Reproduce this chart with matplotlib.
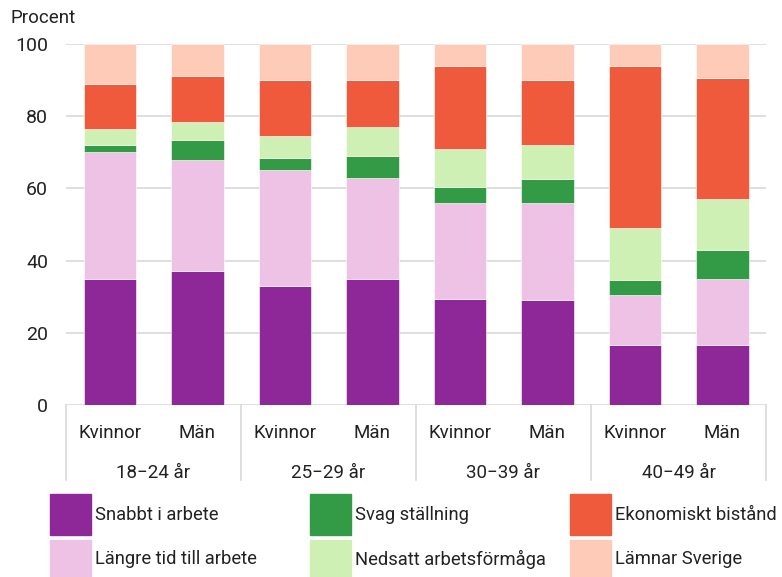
import matplotlib
matplotlib.use("Agg")
import matplotlib.pyplot as plt
from matplotlib.patches import Rectangle
import matplotlib.transforms as mtransforms
import numpy as np

plt.rcParams['font.family'] = ['Roboto', 'DejaVu Sans']

groups = ["18−24 år", "25−29 år", "30−39 år", "40−49 år"]
sexes = ["Kvinnor", "Män"]
series_names = ["Snabbt i arbete", "Längre tid till arbete", "Svag ställning",
                "Nedsatt arbetsförmåga", "Ekonomiskt bistånd", "Lämnar Sverige"]
colors = ["#8E2899", "#EEC2E5", "#339B46", "#CFF0B5", "#EF5A3C", "#FFCBB9"]

snabbt     = [35.0, 37.0, 33.0, 35.0, 29.5, 29.0, 16.5, 16.5]
langre     = [35.0, 31.0, 32.0, 28.0, 26.5, 27.0, 14.0, 18.5]
svag       = [2.0, 5.5, 3.5, 6.0, 4.5, 6.5, 4.0, 8.0]
nedsatt    = [4.5, 5.0, 6.0, 8.0, 10.5, 9.5, 14.5, 14.0]
ekonomiskt = [12.5, 12.5, 15.5, 13.0, 23.0, 18.0, 45.0, 33.5]
lamnar     = [11.0, 9.0, 10.0, 10.0, 6.0, 10.0, 6.0, 9.5]
series = [snabbt, langre, svag, nedsatt, ekonomiskt, lamnar]

W, H = 782, 577
fig = plt.figure(figsize=(W / 100, H / 100), dpi=100)
ax = fig.add_axes([66 / W, 1 - 405 / H, 700 / W, 361 / H])

x = np.arange(len(groups) * len(sexes))
bottom = np.zeros(len(x))
for vals, c in zip(series, colors):
    vals = np.array(vals)
    ax.bar(x, vals, bottom=bottom, width=0.6, color=c, edgecolor="white",
           linewidth=0.4, zorder=3)
    bottom += vals

ax.set_xlim(-0.5, len(x) - 0.5)
ax.set_ylim(0, 100)
ax.set_yticks(np.arange(0, 101, 20))
ax.tick_params(axis='y', length=0, pad=13, labelsize=14, labelcolor="#222222")
ax.set_xticks([])
ax.grid(axis='y', color="#d9d9d9", linewidth=1.2, zorder=0)
for s in ax.spines.values():
    s.set_visible(False)

trans = mtransforms.blended_transform_factory(ax.transData, ax.transAxes)
# separators
for xs in np.arange(-0.5, len(x), 2):
    ax.plot([xs, xs], [0, -0.208], transform=trans, color="#d9d9d9",
            linewidth=1.2, clip_on=False)
for i in x:
    ax.text(i, -0.078, sexes[i % 2], transform=trans, ha='center', va='center',
            fontsize=13.5, color="#222222")
for g, name in enumerate(groups):
    ax.text(2 * g + 0.5, -0.188, name, transform=trans, ha='center', va='center',
            fontsize=13.5, color="#222222")

fig.text(10 / W, 1 - 18 / H, "Procent", ha='left', va='center', fontsize=13.5,
         color="#222222")

# legend (manual grid, 3 columns x 2 rows)
col_x = [50, 310, 570]
row_y = [(494, 535), (540, 577)]
order = [0, 2, 4, 1, 3, 5]
for k, idx in enumerate(order):
    r, cidx = divmod(k, 3)
    x0 = col_x[cidx]
    y0, y1 = row_y[r]
    fig.add_artist(Rectangle((x0 / W, 1 - y1 / H), 41 / W, (y1 - y0) / H,
                             transform=fig.transFigure, color=colors[idx]))
    fig.text((x0 + 45) / W, 1 - ((y0 + y1) / 2 + 1) / H, series_names[idx],
             ha='left', va='center', fontsize=13.2, color="#222222")

fig.savefig("out.png", dpi=100)
